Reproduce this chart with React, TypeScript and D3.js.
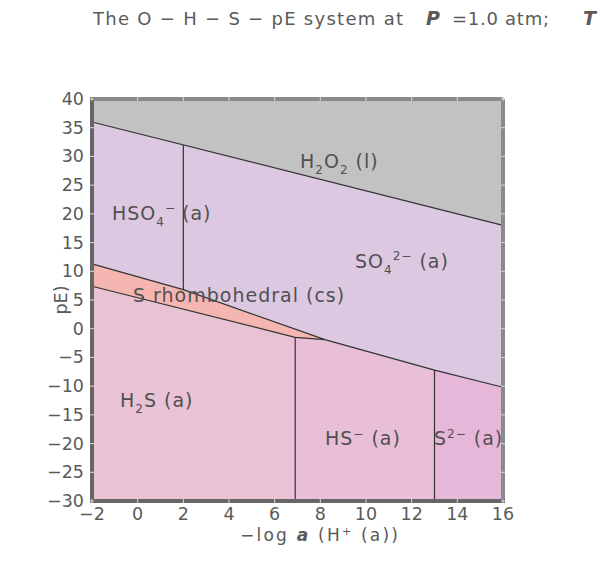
import React from "react";
import * as d3 from "d3";

const xTicks = [-2, 0, 2, 4, 6, 8, 10, 12, 14, 16];
const yTicks = [40, 35, 30, 25, 20, 15, 10, 5, 0, -5, -10, -15, -20, -25, -30];

// boundary polylines [pH-like, pE]
const waterLineX = [-2, 16];
const waterLineY = [36, 18];
const sUpperX = [-2, 2, 8.2];
const sUpperY = [11.3, 6.8, -1.9];
const sLowerX = [-2, 6.9, 8.2];
const sLowerY = [7.4, -1.5, -1.9];
const sulfideX = [8.2, 13, 16];
const sulfideY = [-1.9, -7.2, -10.2];
const verticalX = [2, 6.9, 13];

const W = 600, H = 561;
const x = d3.scaleLinear().domain([-2, 16]).range([92, 503]);
const y = d3.scaleLinear().domain([-30, 40]).range([501, 99]);

const zip = (xs: number[], ys: number[]) => xs.map((v, i) => [v, ys[i]] as [number, number]);
const interp = (pts: [number, number][], xv: number) => {
  for (let i = 0; i < pts.length - 1; i++) {
    const [x0, y0] = pts[i], [x1, y1] = pts[i + 1];
    if (xv >= x0 && xv <= x1) return y0 + ((xv - x0) / (x1 - x0)) * (y1 - y0);
  }
  return pts[pts.length - 1][1];
};

const water = zip(waterLineX, waterLineY);
const sUp = zip(sUpperX, sUpperY);
const sLo = zip(sLowerX, sLowerY);
const sulf = zip(sulfideX, sulfideY);
const sulfateLower = [...sUp, ...sulf.slice(1)];
const reducedUpper = [...sLo, ...sulf.slice(1)];

const line = d3.line<[number, number]>().x(d => x(d[0])).y(d => y(d[1]));
const poly = (pts: [number, number][]) => line(pts) + "Z";

export default function App() {
  const x0 = -2, x1 = 16, yTop = 40, yBot = -30;
  const v0 = verticalX[0], v1 = verticalX[1], v2 = verticalX[2];
  const gray = [...water, [x1, yTop], [x0, yTop]] as [number, number][];
  const lav = [...water, ...[...sulfateLower].reverse()] as [number, number][];
  const salmon = [...sUp, ...[...sLo].reverse()] as [number, number][];
  const h2s = [...reducedUpper.filter(p => p[0] < v1), [v1, interp(reducedUpper, v1)], [v1, yBot], [x0, yBot]] as [number, number][];
  const hs = [[v1, interp(reducedUpper, v1)], ...reducedUpper.filter(p => p[0] > v1 && p[0] < v2), [v2, interp(reducedUpper, v2)], [v2, yBot], [v1, yBot]] as [number, number][];
  const s2 = [[v2, interp(reducedUpper, v2)], ...reducedUpper.filter(p => p[0] > v2), [x1, yBot], [v2, yBot]] as [number, number][];

  const font = "'DejaVu Sans', sans-serif";
  const lab = { fontFamily: font, fontSize: 19, fill: "#505050", letterSpacing: "1px" } as const;
  const tick = { fontFamily: font, fontSize: 17.5, fill: "#5a5a5a" } as const;
  const ttl = { fontFamily: font, fontSize: 18, fill: "#5a5a5a" } as const;

  return (
    <svg width={W} height={H} style={{ position: "absolute", left: 0, top: 0, background: "#fff" }}>
      <text x={93} y={25} textLength={310} lengthAdjust="spacing" style={ttl}>The O − H − S − pE system at</text>
      <text x={426} y={25} style={{ ...ttl, fontWeight: "bold", fontStyle: "italic", fontSize: 19 }}>P</text>
      <text x={452} y={25} textLength={97} lengthAdjust="spacing" style={ttl}>=1.0 atm;</text>
      <text x={583} y={25} style={{ ...ttl, fontWeight: "bold", fontStyle: "italic", fontSize: 19 }}>T</text>

      <path d={poly(gray)} fill="#c2c2c2" />
      <path d={poly(lav)} fill="#dcc8e0" />
      <path d={poly(salmon)} fill="#f5b6b2" />
      <path d={poly(h2s)} fill="#e9c2d5" />
      <path d={poly(hs)} fill="#e8bfd6" />
      <path d={poly(s2)} fill="#e6b7d8" />

      <g fill="none" stroke="#333" strokeWidth={1.2}>
        <path d={line(water)!} />
        <path d={line(sulfateLower)!} />
        <path d={line(sLo)!} />
        <line x1={x(v0)} x2={x(v0)} y1={y(interp(water, v0))} y2={y(interp(sUp, v0))} />
        <line x1={x(v1)} x2={x(v1)} y1={y(interp(reducedUpper, v1))} y2={y(yBot)} />
        <line x1={x(v2)} x2={x(v2)} y1={y(interp(reducedUpper, v2))} y2={y(yBot)} />
      </g>

      <g fill="none" strokeWidth={4}>
        <line x1={x(x0)} x2={x(x1)} y1={y(yTop)} y2={y(yTop)} stroke="#8a8a8a" />
        <line x1={x(x1)} x2={x(x1)} y1={y(yTop)} y2={y(yBot)} stroke="#8a8a8a" />
        <line x1={x(x0)} x2={x(x0)} y1={y(yTop) - 2} y2={y(yBot) + 2} stroke="#666" />
        <line x1={x(x0)} x2={x(x1) + 2} y1={y(yBot)} y2={y(yBot)} stroke="#666" />
      </g>
      <g stroke="#d8d8d8" strokeWidth={1}>
        {xTicks.map(t => (
          <g key={"xt" + t}>
            <line x1={x(t)} x2={x(t)} y1={y(yBot) - 2} y2={y(yBot) + 2} />
            <line x1={x(t)} x2={x(t)} y1={y(yTop) - 2} y2={y(yTop) + 2} />
          </g>
        ))}
        {yTicks.map(t => (
          <g key={"yt" + t}>
            <line x1={x(x0) - 2} x2={x(x0) + 2} y1={y(t)} y2={y(t)} />
            <line x1={x(x1) - 2} x2={x(x1) + 2} y1={y(t)} y2={y(t)} />
          </g>
        ))}
      </g>

      {xTicks.map(t => (
        <text key={"xl" + t} x={x(t)} y={520} textAnchor="middle" style={tick}>{t < 0 ? "−" + Math.abs(t) : t}</text>
      ))}
      {yTicks.map(t => (
        <text key={"yl" + t} x={84} y={y(t) + 6} textAnchor="end" style={tick}>{t < 0 ? "−" + Math.abs(t) : t}</text>
      ))}

      <text x={240} y={541} textLength={158} lengthAdjust="spacing" style={{ ...tick, fontSize: 17 }}>
        −log <tspan fontWeight="bold" fontStyle="italic">a</tspan> (H<tspan dy={-6} fontSize={11}>+</tspan><tspan dy={6}> (a))</tspan>
      </text>
      <text transform="translate(67,300) rotate(-90)" textAnchor="middle" style={tick}>pE)</text>

      <text x={112} y={220} style={lab}>HSO<tspan dy={6} fontSize={12}>4</tspan><tspan dy={-14} fontSize={12}>−</tspan><tspan dy={8} dx={6}>(a)</tspan></text>
      <text x={300} y={168} style={lab}>H<tspan dy={6} fontSize={12}>2</tspan><tspan dy={-6}>O</tspan><tspan dy={6} fontSize={12}>2</tspan><tspan dy={-6}> (l)</tspan></text>
      <text x={355} y={268} style={lab}>SO<tspan dy={6} fontSize={12}>4</tspan><tspan dy={-14} fontSize={12}>2−</tspan><tspan dy={8}> (a)</tspan></text>
      <text x={133} y={302} style={lab}>S rhombohedral (cs)</text>
      <text x={120} y={407} style={lab}>H<tspan dy={6} fontSize={12}>2</tspan><tspan dy={-6}>S (a)</tspan></text>
      <text x={325} y={445} style={lab}>HS<tspan dy={-7} fontSize={12}>−</tspan><tspan dy={7}> (a)</tspan></text>
      <text x={434} y={445} style={lab}>S<tspan dy={-7} fontSize={12}>2−</tspan><tspan dy={7}> (a)</tspan></text>
    </svg>
  );
}
